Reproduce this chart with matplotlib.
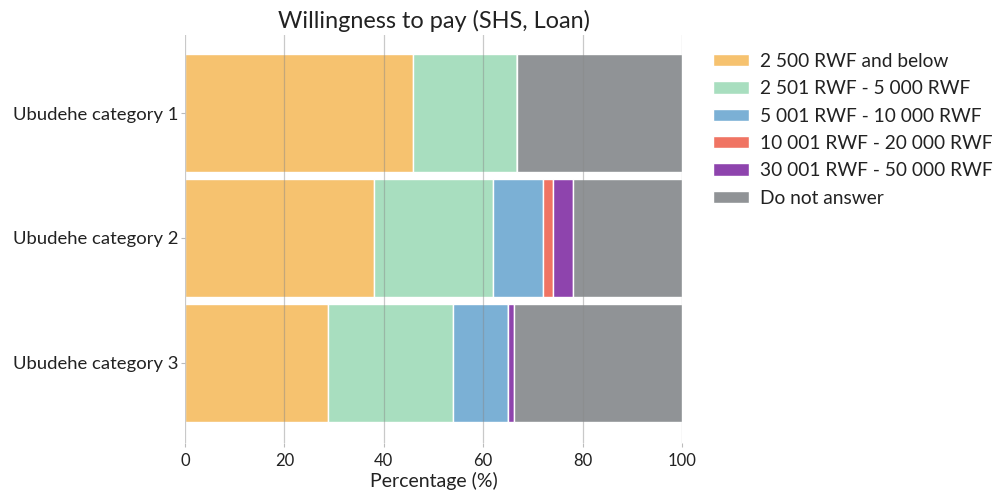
import matplotlib
matplotlib.use("Agg")
import matplotlib.pyplot as plt
import numpy as np

plt.rcParams['font.family'] = ['Lato', 'DejaVu Sans']

categories = ["Ubudehe category 1", "Ubudehe category 2", "Ubudehe category 3"]
series_names = ["2 500 RWF and below", "2 501 RWF - 5 000 RWF", "5 001 RWF - 10 000 RWF",
                "10 001 RWF - 20 000 RWF", "30 001 RWF - 50 000 RWF", "Do not answer"]
s_2500 = [45.8, 38.0, 28.7]
s_5000 = [21.0, 23.9, 25.2]
s_10000 = [0.0, 10.2, 11.1]
s_20000 = [0.0, 1.9, 0.0]
s_50000 = [0.0, 4.0, 1.2]
s_na = [33.2, 22.0, 33.8]
colors = ["#F6C26F", "#A8DEBF", "#7BB0D5", "#F07463", "#8E44AD", "#909396"]
xticks = [0, 20, 40, 60, 80, 100]

series = [s_2500, s_5000, s_10000, s_20000, s_50000, s_na]

fig = plt.figure(figsize=(10.01, 4.91), dpi=100)
ax = fig.add_axes([0.1848, 0.0978, 0.4965, 0.8309])

y = np.arange(len(categories))
left = np.zeros(len(categories))
for name, vals, c in zip(series_names, series, colors):
    vals = np.array(vals)
    ax.barh(y, vals, left=left, height=0.94, color=c, edgecolor='white', linewidth=1.0, label=name, zorder=1)
    left += vals

ax.set_ylim(2.64, -0.624)
ax.set_xlim(0, 100)
ax.set_yticks(y)
ax.set_yticklabels(categories, fontsize=13.3, color='#222222')
ax.set_xticks(xticks)
ax.set_xticklabels([str(t) for t in xticks], fontsize=12, color='#222222')
ax.grid(axis='x', color='#888888', alpha=0.45, linewidth=0.9, zorder=3)
ax.set_axisbelow(False)
for s in ax.spines.values():
    s.set_visible(False)
ax.tick_params(axis='x', length=3, color='#bbbbbb', pad=4)
ax.tick_params(axis='y', length=3, color='#bbbbbb', pad=2)
ax.set_xlabel("Percentage (%)", fontsize=14, color='#222222', labelpad=2)
ax.set_title("Willingness to pay (SHS, Loan)", fontsize=16.9, color='#222222', pad=5)

leg = ax.legend(loc='upper left', bbox_to_anchor=(1.047, 0.975), frameon=False, fontsize=13.8,
                handlelength=1.9, handleheight=0.6, labelspacing=0.54, handletextpad=0.55,
                borderaxespad=0.0)
for t in leg.get_texts():
    t.set_color('#222222')

fig.savefig("out.png", dpi=100)
